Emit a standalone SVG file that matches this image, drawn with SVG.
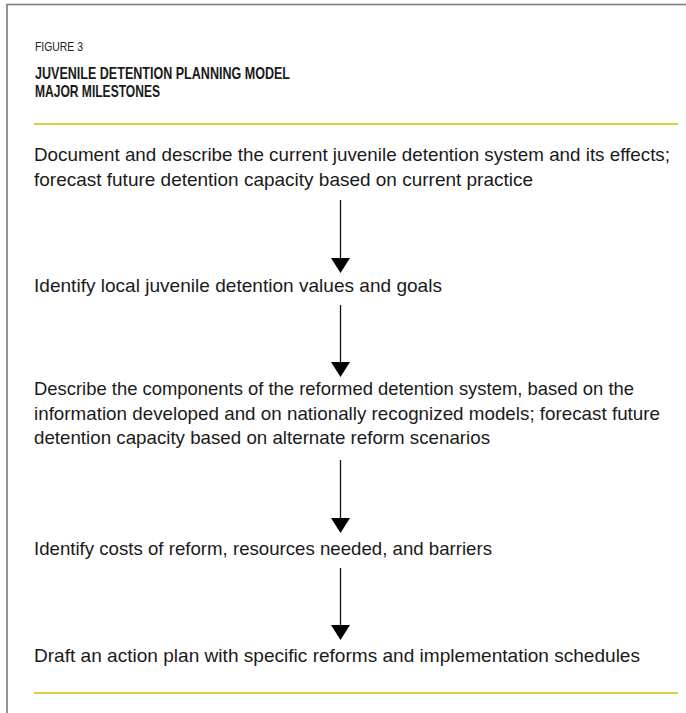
<svg xmlns="http://www.w3.org/2000/svg" width="686" height="713" viewBox="0 0 686 713">
<defs>
<style>
.frame{fill:none;stroke:#7a7a7a;stroke-width:1.6}
.rule{stroke:#d2bf00;stroke-width:1.5}
.lbl{font-family:"Liberation Sans",Arial,sans-serif;font-size:19px;fill:#1a1a1a}
.fig{font-family:"Liberation Sans",Arial,sans-serif;font-size:13px;fill:#222}
.ttl{font-family:"Liberation Sans",Arial,sans-serif;font-size:17px;font-weight:bold;fill:#1a1a1a}
.conn{stroke:#111;stroke-width:1.3;fill:none}
.head{fill:#000}
</style>
</defs>
<rect width="686" height="713" fill="#fff"/>
<path class="frame" d="M7,713 V4.5 H686"/>
<g id="header">
<text class="fig" x="35" y="51" textLength="48" lengthAdjust="spacingAndGlyphs">FIGURE 3</text>
<text class="ttl" x="35" y="78.5" textLength="255" lengthAdjust="spacingAndGlyphs">JUVENILE DETENTION PLANNING MODEL</text>
<text class="ttl" x="35" y="96.5" textLength="125" lengthAdjust="spacingAndGlyphs">MAJOR MILESTONES</text>
<line class="rule" x1="34" y1="124" x2="678" y2="124"/>
</g>
<g id="connectors">
<line class="conn" x1="340.5" y1="200" x2="340.5" y2="260"/>
<path class="head" d="M331,258 L350,258 L340.5,273 Z"/>
<line class="conn" x1="340.5" y1="305" x2="340.5" y2="364"/>
<path class="head" d="M331,362 L350,362 L340.5,377 Z"/>
<line class="conn" x1="340.5" y1="460" x2="340.5" y2="520"/>
<path class="head" d="M331,518 L350,518 L340.5,533 Z"/>
<line class="conn" x1="340.5" y1="568" x2="340.5" y2="627"/>
<path class="head" d="M331,625 L350,625 L340.5,640 Z"/>
</g>
<g id="step1">
<text class="lbl" x="34" y="161" textLength="636" lengthAdjust="spacingAndGlyphs">Document and describe the current juvenile detention system and its effects;</text>
<text class="lbl" x="34" y="186" textLength="499" lengthAdjust="spacingAndGlyphs">forecast future detention capacity based on current practice</text>
</g>
<g id="step2">
<text class="lbl" x="34" y="292" textLength="408" lengthAdjust="spacingAndGlyphs">Identify local juvenile detention values and goals</text>
</g>
<g id="step3">
<text class="lbl" x="34" y="395" textLength="600" lengthAdjust="spacingAndGlyphs">Describe the components of the reformed detention system, based on the</text>
<text class="lbl" x="34" y="420" textLength="626" lengthAdjust="spacingAndGlyphs">information developed and on nationally recognized models; forecast future</text>
<text class="lbl" x="34" y="444" textLength="456" lengthAdjust="spacingAndGlyphs">detention capacity based on alternate reform scenarios</text>
</g>
<g id="step4">
<text class="lbl" x="34" y="555" textLength="458" lengthAdjust="spacingAndGlyphs">Identify costs of reform, resources needed, and barriers</text>
</g>
<g id="step5">
<text class="lbl" x="34" y="662" textLength="606" lengthAdjust="spacingAndGlyphs">Draft an action plan with specific reforms and implementation schedules</text>
</g>
<line class="rule" x1="34" y1="693" x2="678" y2="693"/>
</svg>
